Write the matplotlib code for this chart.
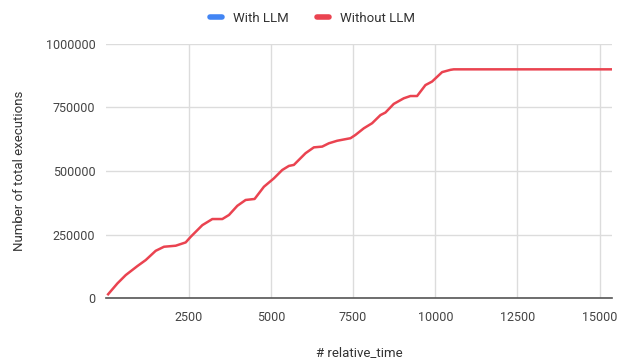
import matplotlib
matplotlib.use("Agg")
import matplotlib.pyplot as plt
from matplotlib.lines import Line2D

plt.rcParams['font.family'] = ['Roboto', 'DejaVu Sans']

# relative_time vs cumulative executions
rel_time = [50, 334, 586, 941, 1194, 1497, 1750, 2105, 2409, 2561, 2916, 3220, 3524,
            3726, 3979, 4232, 4505, 4788, 5091, 5346, 5548, 5699, 6054, 6307, 6561,
            6763, 7016, 7421, 7573, 7826, 8079, 8332, 8484, 8737, 9041, 9244, 9447,
            9700, 9903, 10207, 10460, 10561, 15400]
without_llm = [15000, 57900, 90500, 126000, 149600, 186000, 202000, 206000, 219000,
               241000, 287000, 311000, 311000, 327000, 363000, 386000, 390000, 438000,
               471000, 504000, 520000, 524000, 570000, 593000, 596000, 609000, 619000,
               629000, 642000, 668000, 688000, 720000, 730000, 764000, 786000, 795000,
               795000, 838000, 852000, 889000, 898000, 900000, 900000]
with_llm_t = []
with_llm = []

xticks = [2500, 5000, 7500, 10000, 12500, 15000]
yticks = [0, 250000, 500000, 750000, 1000000]

blue = '#4285f4'
red = '#ea4350'

fig = plt.figure(figsize=(6.19, 3.6), dpi=100)
ax = fig.add_axes([0.172, 0.172, 0.817, 0.706])

ax.plot(with_llm_t, with_llm, color=blue, lw=1.8)
ax.plot(rel_time, without_llm, color=red, lw=1.8, solid_joinstyle='round')

ax.set_xlim(0, 15380)
ax.set_ylim(0, 1000000)
ax.set_xticks(xticks)
ax.set_yticks(yticks)
ax.set_xticklabels([str(v) for v in xticks])
ax.set_yticklabels([str(v) for v in yticks])
ax.grid(True, color='#dcdcdc', lw=1)
ax.set_axisbelow(True)
for s in ['top', 'right', 'left']:
    ax.spines[s].set_visible(False)
ax.spines['bottom'].set_color('#555555')
ax.spines['bottom'].set_linewidth(1.2)
ax.tick_params(length=0, labelsize=9, colors='#444444', pad=8)
ax.tick_params(axis='x', pad=9)

ax.set_ylabel('Number of total executions', fontsize=9.5, color='#333333', labelpad=14)
ax.set_xlabel('# relative_time', fontsize=9.5, color='#333333', labelpad=16)

handles = [Line2D([], [], color=blue, lw=4, solid_capstyle='round'),
           Line2D([], [], color=red, lw=4, solid_capstyle='round')]
fig.legend(handles, ['With LLM', 'Without LLM'], loc='upper center',
           bbox_to_anchor=(0.505, 1.0), ncol=2, frameon=False, fontsize=9.5,
           handlelength=0.9, columnspacing=2.2, labelcolor='#333333')

fig.savefig('out.png', dpi=100)
